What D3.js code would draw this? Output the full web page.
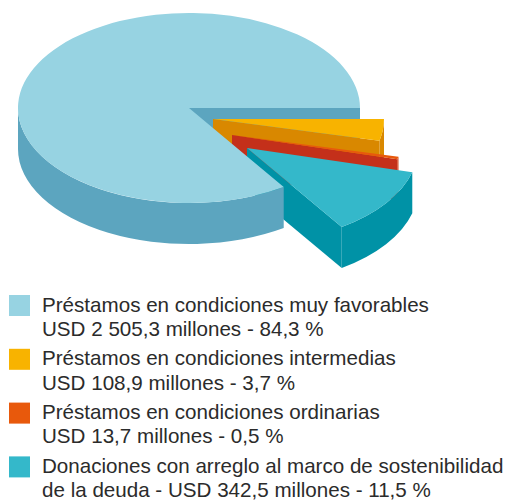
<!DOCTYPE html>
<html>
<head>
<meta charset="utf-8">
<script src="https://cdn.jsdelivr.net/npm/d3@7/dist/d3.min.js"></script>
<style>
  html, body { margin: 0; padding: 0; background: #ffffff; }
  svg { display: block; }
</style>
</head>
<body>
<svg id="chart" width="508" height="501"></svg>
<script>
// ---------- DATA ----------
const categories = [
  "Préstamos en condiciones muy favorables",
  "Préstamos en condiciones intermedias",
  "Préstamos en condiciones ordinarias",
  "Donaciones con arreglo al marco de sostenibilidad de la deuda"
];
const amounts = [2505.3, 108.9, 13.7, 342.5];   // USD millones
const percents = [84.3, 3.7, 0.5, 11.5];        // %
const unitLabel = "millones";
const currencyLabel = "USD";

// ---------- STYLE / LAYOUT ----------
const topColors  = ["#97d3e2", "#f8b300", "#e8590c", "#34b8ca"];
const sideColors = ["#5ca5bf", "#d98800", "#c4301a", "#0092a6"];
const wallColors = ["#5ca5bf", "#d98800", "#d4401a", "#0092a6"];
const legendColors = ["#97d3e2", "#f8b300", "#e8590c", "#34b8ca"];
const explodeOffsets = [[0, 0], [24, 11], [43, 27], [58, 40]];
const wrapAt = [null, null, null, "de la deuda"]; // second-line start for long names

const W = 508, H = 501;
const cx = 189, cy = 108, rx = 171, ry = 95, depth = 41;

const svg = d3.select("#chart");

// pie: angles measured clockwise from 3 o'clock on screen
const startA = -(amounts[0] / d3.sum(amounts)) * 2 * Math.PI;
const pie = d3.pie().sort(null).value(d => d)
  .startAngle(startA).endAngle(startA + 2 * Math.PI);
const arcs = pie(amounts);

function P(a, ox, oy, dz) {
  return [cx + ox + rx * Math.cos(a), cy + oy + ry * Math.sin(a) + (dz || 0)];
}
function topPath(a0, a1, ox, oy) {
  const p0 = P(a0, ox, oy), p1 = P(a1, ox, oy);
  const large = (a1 - a0) > Math.PI ? 1 : 0;
  return `M${cx + ox},${cy + oy}L${p0[0]},${p0[1]}A${rx},${ry} 0 ${large} 1 ${p1[0]},${p1[1]}Z`;
}
function wallPath(s, e, ox, oy) {
  const p0 = P(s, ox, oy), p1 = P(e, ox, oy);
  const q1 = P(e, ox, oy, depth), q0 = P(s, ox, oy, depth);
  const large = (e - s) > Math.PI ? 1 : 0;
  return `M${p0[0]},${p0[1]}A${rx},${ry} 0 ${large} 1 ${p1[0]},${p1[1]}` +
         `L${q1[0]},${q1[1]}A${rx},${ry} 0 ${large} 0 ${q0[0]},${q0[1]}Z`;
}
function facePath(a, ox, oy) {
  const p = P(a, ox, oy), q = P(a, ox, oy, depth);
  return `M${cx + ox},${cy + oy}L${p[0]},${p[1]}L${q[0]},${q[1]}L${cx + ox},${cy + oy + depth}Z`;
}
// front (visible) part of the wall: angles where sin > 0, i.e. [0, PI] + 2k PI
function wallSegments(a0, a1) {
  const segs = [];
  for (let k = -2; k <= 1; k++) {
    const s = Math.max(a0, 2 * Math.PI * k), e = Math.min(a1, 2 * Math.PI * k + Math.PI);
    if (e > s + 1e-6) segs.push([s, e]);
  }
  return segs;
}

const g = svg.append("g");

function drawFaces(d, i) {
  const [ox, oy] = explodeOffsets[i];
  if (Math.cos(d.endAngle) > 0)
    g.append("path").attr("d", facePath(d.endAngle, ox, oy)).attr("fill", sideColors[i]);
  if (Math.cos(d.startAngle) < 0)
    g.append("path").attr("d", facePath(d.startAngle, ox, oy)).attr("fill", sideColors[i]);
}
function drawWallTop(d, i) {
  const [ox, oy] = explodeOffsets[i];
  wallSegments(d.startAngle, d.endAngle).forEach(([s, e]) => {
    g.append("path").attr("d", wallPath(s, e, ox, oy)).attr("fill", wallColors[i]);
  });
  g.append("path").attr("d", topPath(d.startAngle, d.endAngle, ox, oy)).attr("fill", topColors[i]);
}

// big slice cut face first, then exploded slices, then big slice body
drawFaces(arcs[0], 0);
[1, 2, 3].forEach(i => { drawFaces(arcs[i], i); drawWallTop(arcs[i], i); });
drawWallTop(arcs[0], 0);

// ---------- LEGEND ----------
const loc = d3.formatLocale({ decimal: ",", thousands: " ", grouping: [3], currency: ["", ""] });
const fmtAmt = loc.format(",.1f");
const fmtPct = loc.format(".1f");

const legendX = 9, legendTextX = 42, legendTop = 311.5, entryStep = 53.8, lineStep = 24.3, sq = 21;
const legend = svg.append("g")
  .attr("font-family", "'Liberation Sans', Arial, Helvetica, sans-serif")
  .attr("font-size", "20.6px")
  .attr("fill", "#2b2b2b");

categories.forEach((name, i) => {
  let l1 = name, rest = "";
  if (wrapAt[i]) {
    const k = name.indexOf(wrapAt[i]);
    l1 = name.slice(0, k).trim();
    rest = name.slice(k).trim() + " - ";
  }
  const l2 = `${rest}${currencyLabel} ${fmtAmt(amounts[i])} ${unitLabel} - ${fmtPct(percents[i])} %`;
  const y = legendTop + entryStep * i;
  legend.append("rect").attr("x", legendX).attr("y", y - 16.5).attr("width", sq).attr("height", sq)
    .attr("fill", legendColors[i]);
  legend.append("text").attr("x", legendTextX).attr("y", y).text(l1);
  legend.append("text").attr("x", legendTextX).attr("y", y + lineStep).text(l2);
});
</script>
</body>
</html>
